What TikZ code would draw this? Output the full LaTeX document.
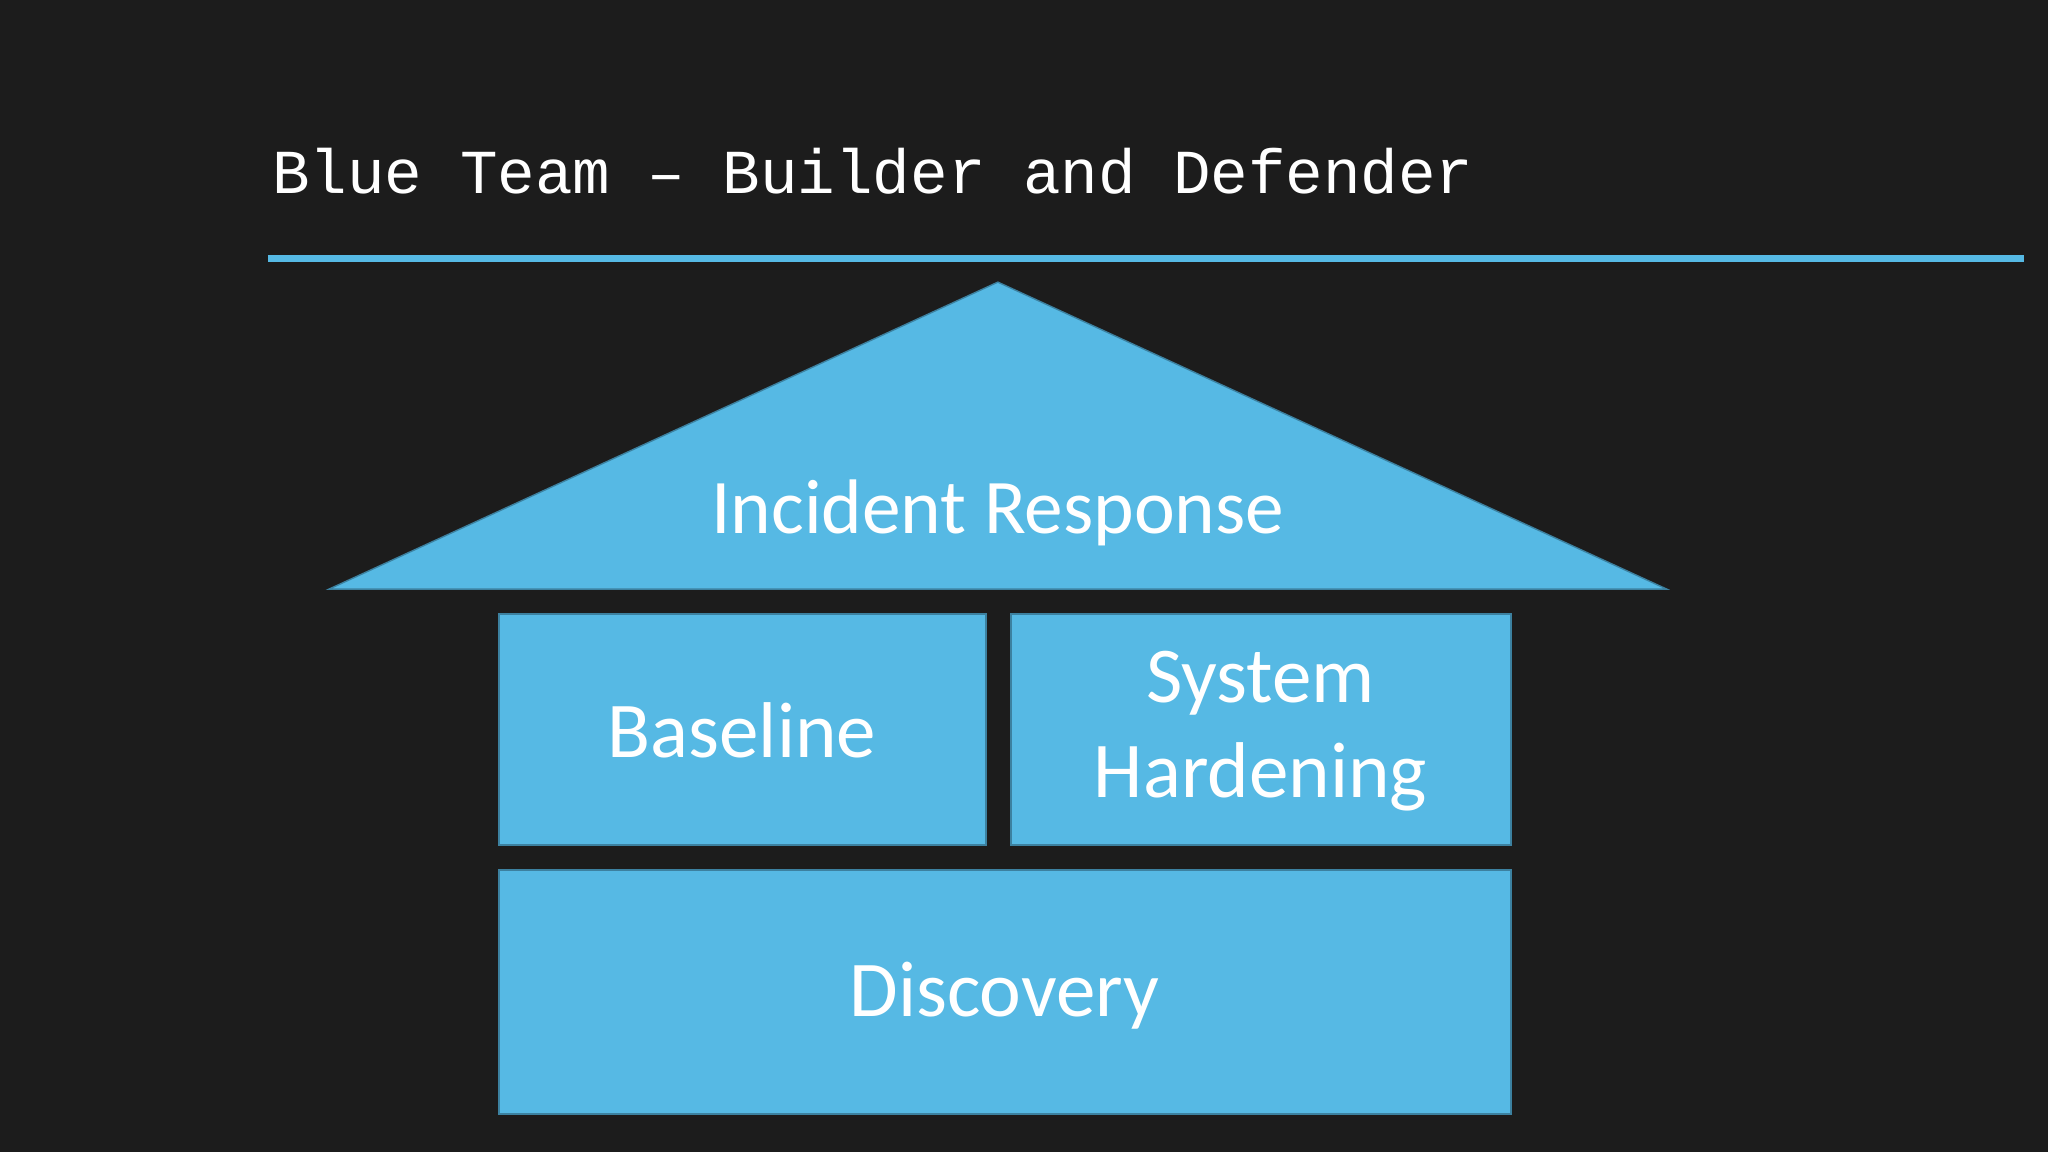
\documentclass[tikz,border=0pt]{standalone}
\usepackage{fontspec}
\setmainfont{Carlito}
\newfontfamily\monof{Liberation Mono}
\definecolor{bl}{HTML}{56B9E4}
\definecolor{bg}{HTML}{1C1C1C}
\begin{document}
\begin{tikzpicture}[x=0.013061cm,y=-0.013061cm,
  blk/.style={fill=bl,draw=bl!70!black,line width=0.4pt},
  lbl/.style={text=white,font=\fontsize{22.5}{27}\selectfont,align=center}]
\fill[bg] (0,0) rectangle (1568,882);
\useasboundingbox (0,0) rectangle (1568,882);
\node[anchor=base west,inner sep=0,text=white,font=\monof\fontsize{17.8}{20}\selectfont] (title) at (208,148) {Blue Team – Builder and Defender};
\coordinate (l1) at (205,198); \coordinate (l2) at (1550,198);
\draw[bl,line width=2pt] (l1) -- (l2);
\path[blk] (764,216) -- (1276,451) -- (252,451) -- cycle;
\node[lbl,font=\fontsize{22}{26}\selectfont] (ir) at (764,393) {Incident Response};
\path[blk] (382,470) rectangle (755,647);
\node[lbl] (base) at (568,559) {Baseline};
\path[blk] (774,470) rectangle (1157,647);
\node[lbl] (sh) at (965,560) {System\\Hardening};
\path[blk] (382,666) rectangle (1157,853);
\node[lbl] (disc) at (769,762) {Discovery};
\end{tikzpicture}
\end{document}
